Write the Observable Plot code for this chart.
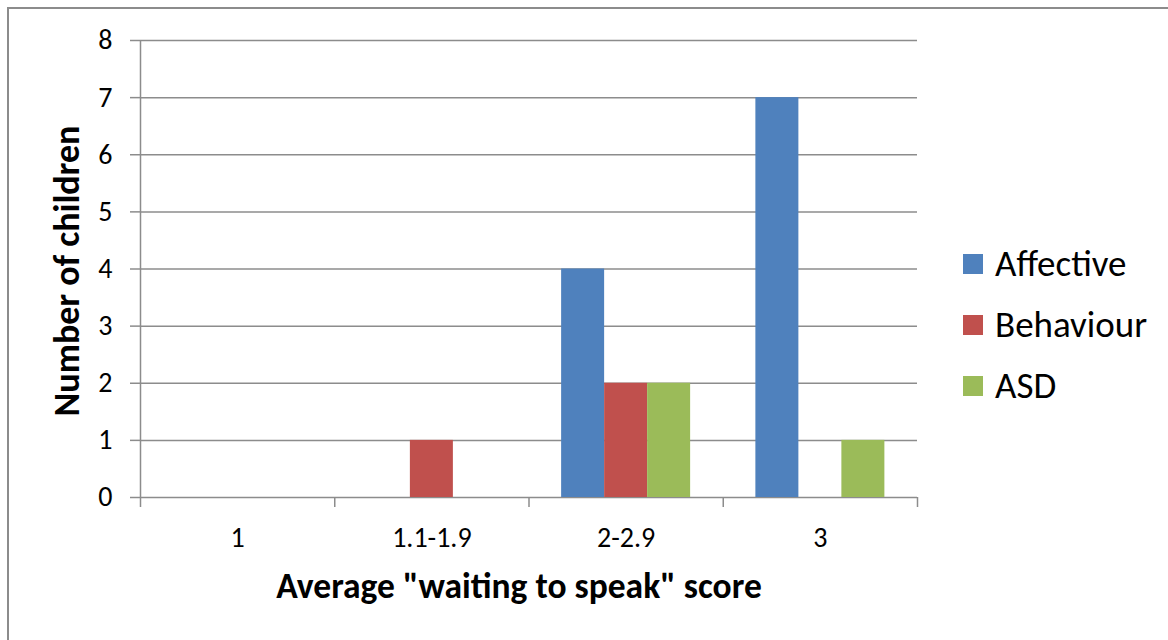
<!DOCTYPE html>
<html>
<head>
<meta charset="utf-8">
<script src="https://cdn.jsdelivr.net/npm/d3@7"></script>
<script src="https://cdn.jsdelivr.net/npm/@observablehq/plot@0.6"></script>
<style>
  html, body { margin: 0; padding: 0; background: #fff; }
  #wrap { position: relative; width: 1168px; height: 640px; overflow: hidden; font-family: Carlito, Lato, sans-serif; }
  #border { position: absolute; left: 7px; top: 7px; width: 1300px; height: 800px; border-top: 2px solid #8c8c8c; border-left: 2px solid #8c8c8c; box-sizing: border-box; }
  #chart { position: absolute; left: 0; top: 0; }
  #legend { position: absolute; left: 963px; top: 233px; }
  .row { display: flex; align-items: center; height: 61px; font-size: 37px; color: #000; }
  .sw { width: 20px; height: 20px; margin-right: 12px; }
</style>
</head>
<body>
<div id="wrap">
  <div id="border"></div>
  <div id="chart"></div>
  <div id="legend"></div>
</div>
<script>
const categories = ["1", "1.1-1.9", "2-2.9", "3"];
const series = ["Affective", "Behaviour", "ASD"];
const affective = [0, 0, 4, 7];
const behaviour = [0, 1, 2, 0];
const asd = [0, 0, 2, 1];
const colors = ["#4F81BD", "#C0504D", "#9BBB59"];
const yTicks = [0, 1, 2, 3, 4, 5, 6, 7, 8];
const xTitle = "Average \"waiting to speak\" score";
const yTitle = "Number of children";

const seriesValues = [affective, behaviour, asd];
const barFrac = 43 / 194.25; // bar width as a fraction of a category slot
const rows = [];
categories.forEach((c, ci) => {
  series.forEach((s, si) => {
    const center = ci + 0.5 + (si - 1) * barFrac;
    rows.push({category: c, series: s, value: seriesValues[si][ci], x1: center - barFrac / 2, x2: center + barFrac / 2});
  });
});
const boundaries = d3.range(categories.length + 1);
const centers = categories.map((c, i) => i + 0.5);
const grid = "#8c8c8c";

const chart = Plot.plot({
  width: 1168,
  height: 640,
  marginLeft: 140,
  marginRight: 251,
  marginTop: 40,
  marginBottom: 143,
  style: {fontFamily: "Carlito, Lato, sans-serif", background: "transparent", color: "#000"},
  x: {domain: [0, categories.length], axis: null},
  y: {domain: [0, 8], axis: null},
  color: {domain: series, range: colors},
  marks: [
    Plot.ruleY(yTicks, {stroke: grid, strokeWidth: 1.5}),
    Plot.rectY(rows.filter(d => d.value > 0), {x1: "x1", x2: "x2", y1: 0, y2: "value", fill: "series"}),
    Plot.ruleX([0], {stroke: grid, strokeWidth: 1.5}),
    Plot.axisY({ticks: yTicks, tickSize: 10, tickPadding: 18, stroke: grid, strokeWidth: 1.5, fontSize: 28, tickFormat: d => String(d), label: null}),
    Plot.axisX({ticks: boundaries, tickSize: 10, stroke: grid, strokeWidth: 1.5, tickFormat: () => "", label: null}),
    Plot.axisX({ticks: centers, tickSize: 0, tickPadding: 30, fontSize: 28, tickFormat: d => categories[Math.floor(d)], label: null}),
    Plot.text([xTitle], {frameAnchor: "bottom", textAnchor: "middle", lineAnchor: "bottom", dy: 100, dx: -10, fontSize: 35.5, fontWeight: "bold", fill: "#000"}),
    Plot.text([yTitle], {frameAnchor: "left", textAnchor: "middle", lineAnchor: "bottom", rotate: -90, dx: -62, dy: 2, fontSize: 36, fontWeight: "bold", fill: "#000"})
  ]
});
document.getElementById("chart").appendChild(chart);

const legend = document.getElementById("legend");
series.forEach((s, i) => {
  const row = document.createElement("div");
  row.className = "row";
  const sw = document.createElement("div");
  sw.className = "sw";
  sw.style.background = colors[i];
  const label = document.createElement("span");
  label.textContent = s;
  row.appendChild(sw);
  row.appendChild(label);
  legend.appendChild(row);
});
</script>
</body>
</html>
